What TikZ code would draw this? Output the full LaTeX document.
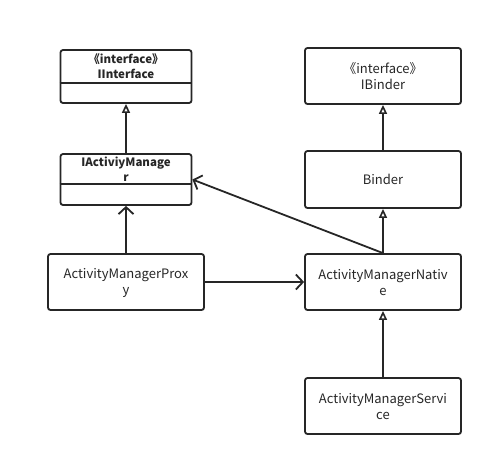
\documentclass[tikz,border=0pt]{standalone}
\usepackage{fontspec}
\setmainfont{Noto Sans CJK SC}
\usetikzlibrary{arrows.meta}
\begin{document}
\begin{tikzpicture}[x=1pt,y=-1pt,
  box/.style={draw=black!85,line width=1.8pt,rounded corners=2.5pt},
  lbl/.style={font=\fontsize{13}{16}\selectfont,text=black!85,inner sep=0pt,align=center},
  blbl/.style={lbl,font=\fontsize{11.5}{15}\selectfont\bfseries},
  inh/.style={draw=black!85,line width=1.8pt,-{Triangle[open,length=9pt,width=8pt,line width=1.6pt]}},
  dep/.style={draw=black!85,line width=1.8pt,-{Straight Barb[length=7pt,width=15pt,line width=1.8pt]}}]
\useasboundingbox (0,0) rectangle (494,467);
% boxes
\node[box,minimum width=131pt,minimum height=53pt,inner sep=0pt] (IInterface) at (126,76.5) {};
\draw[draw=black!85,line width=1.8pt] (IInterface.west |- 0,83) -- (IInterface.east |- 0,83);
\node[blbl] (iit) at (126,66.5) {《interface》\\IInterface};

\node[box,minimum width=156pt,minimum height=56pt,inner sep=0pt] (IBinder) at (383,76) {};
\node[lbl] (ibt) at (383,76) {《interface》\\IBinder};

\node[box,minimum width=131pt,minimum height=51pt,inner sep=0pt] (IAM) at (126,179.5) {};
\draw[draw=black!85,line width=1.8pt] (IAM.west |- 0,184) -- (IAM.east |- 0,184);
\node[blbl] (iamt) at (126,169) {IActiviyManage\\r};

\node[box,minimum width=156pt,minimum height=57pt,inner sep=0pt] (Binder) at (383,179.5) {};
\node[lbl] (bt) at (383,179.5) {Binder};

\node[box,minimum width=156pt,minimum height=56pt,inner sep=0pt] (Proxy) at (126,282) {};
\node[lbl] (pt) at (126,282.5) {ActivityManagerProx\\y};

\node[box,minimum width=156pt,minimum height=56pt,inner sep=0pt] (Native) at (383,282) {};
\node[lbl] (nt) at (383,282.5) {ActivityManagerNativ\\e};

\node[box,minimum width=156pt,minimum height=56pt,inner sep=0pt] (Service) at (383,406) {};
\node[lbl] (st) at (383,406.5) {ActivityManagerServi\\ce};

% connectors
\draw[inh] (IAM.north) -- (IInterface.south);
\draw[inh] (Binder.north) -- (IBinder.south);
\draw[inh] (Native.north) -- (Binder.south);
\draw[inh] (Service.north) -- (Native.south);
\draw[dep] (Proxy.north) -- (IAM.south);
\draw[dep] (Proxy.east) -- (Native.west);
\draw[dep] (Native.north) -- (IAM.east);
\end{tikzpicture}
\end{document}
